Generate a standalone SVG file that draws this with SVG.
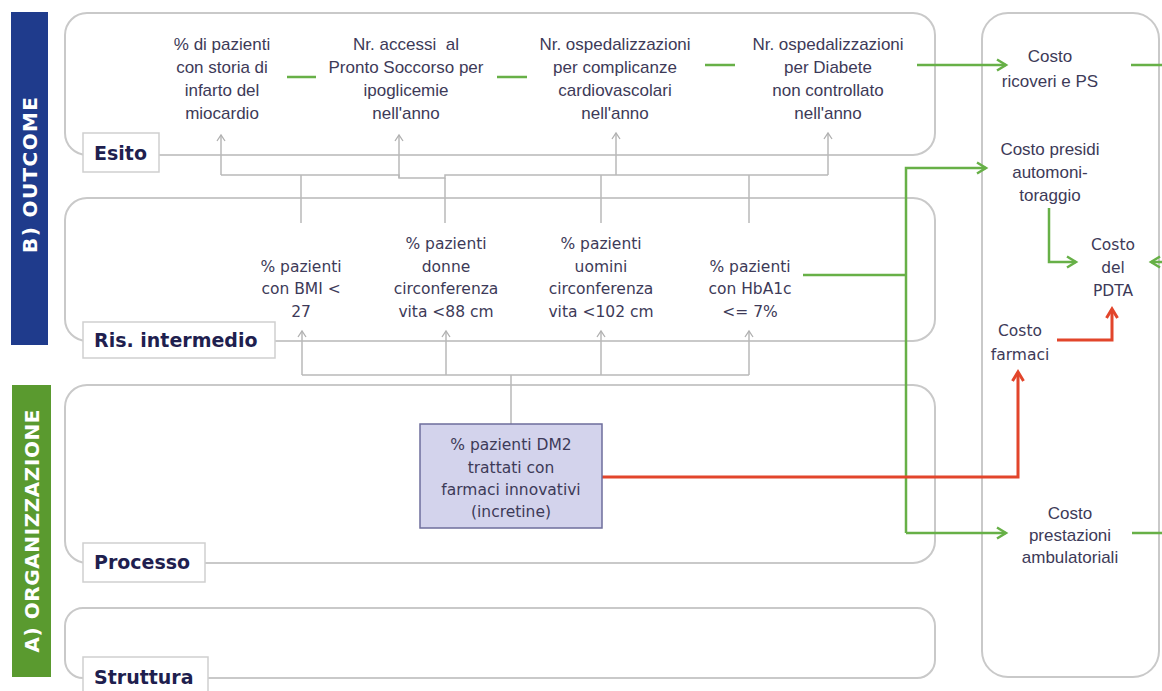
<svg xmlns="http://www.w3.org/2000/svg" width="1162" height="691" viewBox="0 0 1162 691">
<defs>
<style>
.panel{fill:#ffffff;stroke:#c9c9c9;stroke-width:2}
.lbl{fill:#ffffff;stroke:#cfcfcf;stroke-width:1.5}
.lbltxt{font-family:"DejaVu Sans",Verdana,sans-serif;font-weight:bold;font-size:19px;fill:#1f1f4f}
.bartxt{font-family:"DejaVu Sans",Verdana,sans-serif;font-weight:bold;font-size:20px;fill:#ffffff}
.t1{font-family:"Liberation Sans",Arial,sans-serif;font-size:17px;fill:#3d3a58;text-anchor:middle}
.t2{font-family:"DejaVu Sans",Verdana,sans-serif;font-size:15.5px;fill:#3d3a58;text-anchor:middle}
.gray{fill:none;stroke:#b9b9b9;stroke-width:1.5}
.green{fill:none;stroke:#67b047;stroke-width:2.5}
.red{fill:none;stroke:#e2452b;stroke-width:3}
</style>
<marker id="ag" markerWidth="10" markerHeight="10" refX="7" refY="5" orient="auto" markerUnits="userSpaceOnUse">
<path d="M1,1 L7,5 L1,9" fill="none" stroke="#b0b0b0" stroke-width="1.3"/>
</marker>
<marker id="agr" markerWidth="14" markerHeight="14" refX="11" refY="7" orient="auto" markerUnits="userSpaceOnUse">
<path d="M2,1.5 L11,7 L2,12.5" fill="none" stroke="#67b047" stroke-width="2.5"/>
</marker>
<marker id="ar" markerWidth="14" markerHeight="14" refX="11" refY="7" orient="auto" markerUnits="userSpaceOnUse">
<path d="M2,1.5 L11,7 L2,12.5" fill="none" stroke="#e2452b" stroke-width="3"/>
</marker>
</defs>
<rect x="0" y="0" width="1162" height="691" fill="#ffffff"/>

<g id="bar-outcome">
<rect x="11" y="12" width="37" height="333" fill="#1f3b8c"/>
<text class="bartxt" transform="translate(37,175) rotate(-90)" text-anchor="middle" textLength="156" lengthAdjust="spacing">B) OUTCOME</text>
</g>
<g id="bar-organizzazione">
<rect x="12" y="385" width="39" height="292" fill="#5a9a2f"/>
<text class="bartxt" transform="translate(39,531) rotate(-90)" text-anchor="middle" textLength="243" lengthAdjust="spacing">A) ORGANIZZAZIONE</text>
</g>

<g id="panel-esito"><rect class="panel" x="65" y="13" width="870" height="142" rx="22"/></g>
<g id="panel-intermedio"><rect class="panel" x="65" y="198" width="870" height="143" rx="22"/></g>
<g id="panel-processo"><rect class="panel" x="65" y="385" width="870" height="178" rx="22"/></g>
<g id="panel-struttura"><rect class="panel" x="65" y="608" width="870" height="70" rx="18"/></g>
<g id="panel-costi"><rect class="panel" x="982" y="13" width="177" height="664" rx="26"/></g>

<g id="connectors">
<path class="gray" d="M221,175 H399 V178 H445 V175 H828"/>
<path class="gray" d="M221,175 V135" marker-end="url(#ag)"/>
<path class="gray" d="M399,178 V135" marker-end="url(#ag)"/>
<path class="gray" d="M616,175 V133" marker-end="url(#ag)"/>
<path class="gray" d="M828,175 V133" marker-end="url(#ag)"/>
<path class="gray" d="M301,175 V223 M445,178 V223 M601,175 V223 M749,175 V223"/>
<path class="gray" d="M511,424 V375 M302,375 H749"/>
<path class="gray" d="M302,375 V331" marker-end="url(#ag)"/>
<path class="gray" d="M446,375 V331" marker-end="url(#ag)"/>
<path class="gray" d="M601,375 V331" marker-end="url(#ag)"/>
<path class="gray" d="M749,375 V331" marker-end="url(#ag)"/>

<path class="green" d="M287,77 H316 M497,77 H527 M705,65 H735"/>
<path class="green" d="M917,65 H1006" marker-end="url(#agr)"/>
<path class="green" d="M1131,65 H1162 M1132,533 H1162"/>
<path class="green" d="M803,275 H906"/>
<path class="green" d="M906,533 V168 H986" marker-end="url(#agr)"/>
<path class="green" d="M906,533 H1006" marker-end="url(#agr)"/>
<path class="green" d="M1049,208 V262 H1076" marker-end="url(#agr)"/>
<path class="green" d="M1162,262 H1151" marker-end="url(#agr)"/>

<path class="red" d="M602,477 H1018 V372" marker-end="url(#ar)"/>
<path class="red" d="M1057,340 H1112 V309" marker-end="url(#ar)"/>
</g>

<g id="label-esito"><rect class="lbl" x="83" y="133" width="76" height="39"/><text class="lbltxt" x="94" y="160">Esito</text></g>
<g id="label-intermedio"><rect class="lbl" x="83" y="322" width="192" height="36"/><text class="lbltxt" x="94" y="347">Ris. intermedio</text></g>
<g id="label-processo"><rect class="lbl" x="83" y="543" width="122" height="39"/><text class="lbltxt" x="94" y="569">Processo</text></g>
<g id="label-struttura"><rect class="lbl" x="83" y="657" width="125" height="40"/><text class="lbltxt" x="94" y="684">Struttura</text></g>

<g id="esito-1"><text class="t1"><tspan x="222" y="50">% di pazienti</tspan><tspan x="222" y="73">con storia di</tspan><tspan x="222" y="96">infarto del</tspan><tspan x="222" y="119">miocardio</tspan></text></g>
<g id="esito-2"><text class="t1" style="white-space:pre"><tspan x="406" y="50">Nr. accessi  al</tspan><tspan x="406" y="73">Pronto Soccorso per</tspan><tspan x="406" y="96">ipoglicemie</tspan><tspan x="406" y="119">nell'anno</tspan></text></g>
<g id="esito-3"><text class="t1"><tspan x="615" y="50">Nr. ospedalizzazioni</tspan><tspan x="615" y="73">per complicanze</tspan><tspan x="615" y="96">cardiovascolari</tspan><tspan x="615" y="119">nell'anno</tspan></text></g>
<g id="esito-4"><text class="t1"><tspan x="828" y="50">Nr. ospedalizzazioni</tspan><tspan x="828" y="73">per Diabete</tspan><tspan x="828" y="96">non controllato</tspan><tspan x="828" y="119">nell'anno</tspan></text></g>

<g id="int-1"><text class="t2"><tspan x="301" y="272">% pazienti</tspan><tspan x="301" y="294">con BMI &lt;</tspan><tspan x="301" y="317">27</tspan></text></g>
<g id="int-2"><text class="t2"><tspan x="446" y="249">% pazienti</tspan><tspan x="446" y="272">donne</tspan><tspan x="446" y="294">circonferenza</tspan><tspan x="446" y="317">vita &lt;88 cm</tspan></text></g>
<g id="int-3"><text class="t2"><tspan x="601" y="249">% pazienti</tspan><tspan x="601" y="272">uomini</tspan><tspan x="601" y="294">circonferenza</tspan><tspan x="601" y="317">vita &lt;102 cm</tspan></text></g>
<g id="int-4"><text class="t2"><tspan x="750" y="272">% pazienti</tspan><tspan x="750" y="294">con HbA1c</tspan><tspan x="750" y="317">&lt;= 7%</tspan></text></g>

<g id="processo-dm2">
<rect x="420" y="424" width="182" height="104" fill="#d3d3ec" stroke="#6e6e9c" stroke-width="1.5"/>
<text class="t2"><tspan x="511" y="450">% pazienti DM2</tspan><tspan x="511" y="473">trattati con</tspan><tspan x="511" y="495">farmaci innovativi</tspan><tspan x="511" y="517">(incretine)</tspan></text>
</g>

<g id="costo-ricoveri"><text class="t1"><tspan x="1050" y="62">Costo</tspan><tspan x="1050" y="87">ricoveri e PS</tspan></text></g>
<g id="costo-presidi"><text class="t1"><tspan x="1050" y="155">Costo presidi</tspan><tspan x="1050" y="178">automoni-</tspan><tspan x="1050" y="201">toraggio</tspan></text></g>
<g id="costo-pdta"><text class="t2"><tspan x="1113" y="250">Costo</tspan><tspan x="1113" y="273">del</tspan><tspan x="1113" y="296">PDTA</tspan></text></g>
<g id="costo-farmaci"><text class="t2"><tspan x="1020" y="336">Costo</tspan><tspan x="1020" y="360">farmaci</tspan></text></g>
<g id="costo-prestazioni"><text class="t1"><tspan x="1070" y="519">Costo</tspan><tspan x="1070" y="541">prestazioni</tspan><tspan x="1070" y="563">ambulatoriali</tspan></text></g>
</svg>
